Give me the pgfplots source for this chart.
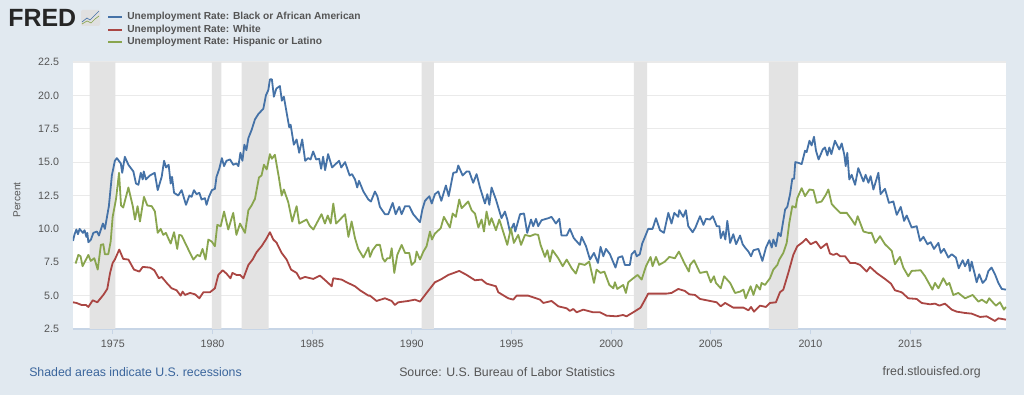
\documentclass[border=0pt]{standalone}
\usepackage{pgfplots}
\pgfplotsset{compat=1.18}
\usepackage{fontspec}
\setmainfont{Liberation Sans}
\definecolor{bgc}{HTML}{E1E9F0}
\definecolor{serblue}{HTML}{4572A7}
\definecolor{serred}{HTML}{AA4643}
\definecolor{sergreen}{HTML}{89A54E}
\definecolor{gridc}{HTML}{EAEAEA}
\definecolor{band}{HTML}{E3E3E3}
\definecolor{txt}{HTML}{555555}
\definecolor{axc}{HTML}{C7D5E6}
\definecolor{linkc}{HTML}{3A659C}
\begin{document}
\begin{tikzpicture}[x=0.75pt,y=0.75pt]
\fill[bgc] (0,0) rectangle (1024,395);
\useasboundingbox (0,0) rectangle (1024,395);
\begin{axis}[
  at={(54.75pt,49.5pt)}, anchor=south west, scale only axis,
  width=700pt, height=200.25pt,
  xmin=1973, xmax=2019.83, ymin=2.5, ymax=22.5,
  axis background/.style={fill=white},
  axis x line*=bottom, axis y line*=left,
  y axis line style={draw=none}, x axis line style={draw=axc,line width=0.8pt,-},
  ytick={2.5,5,7.5,10,12.5,15,17.5,20,22.5},
  yticklabels={2.5,5.0,7.5,10.0,12.5,15.0,17.5,20.0,22.5},
  xtick={1975,1980,1985,1990,1995,2000,2005,2010,2015},
  xticklabel style={/pgf/number format/set thousands separator={},/pgf/number format/assume math mode=true,font=\fontsize{8pt}{10pt}\selectfont,text=txt,yshift=-1pt},
  yticklabel style={/pgf/number format/assume math mode=true,font=\fontsize{8pt}{10pt}\selectfont,text=txt,xshift=-3pt},
  ymajorgrids, grid style={gridc,line width=0.9pt},
  x tick style={draw=axc,line width=0.6pt}, y tick style={draw=none},
  major tick length=4pt, tick pos=lower,
  tick align=outside,
  clip=true,
]
\addplot[fill=band,draw=none,forget plot] coordinates {(1973.83,2.5)(1973.83,22.5)(1975.12,22.5)(1975.12,2.5)} \closedcycle;
\addplot[fill=band,draw=none,forget plot] coordinates {(1979.97,2.5)(1979.97,22.5)(1980.44,22.5)(1980.44,2.5)} \closedcycle;
\addplot[fill=band,draw=none,forget plot] coordinates {(1981.46,2.5)(1981.46,22.5)(1982.82,22.5)(1982.82,2.5)} \closedcycle;
\addplot[fill=band,draw=none,forget plot] coordinates {(1990.49,2.5)(1990.49,22.5)(1991.11,22.5)(1991.11,2.5)} \closedcycle;
\addplot[fill=band,draw=none,forget plot] coordinates {(2001.14,2.5)(2001.14,22.5)(2001.81,22.5)(2001.81,2.5)} \closedcycle;
\addplot[fill=band,draw=none,forget plot] coordinates {(2007.91,2.5)(2007.91,22.5)(2009.38,22.5)(2009.38,2.5)} \closedcycle;
% Black or African American
\addplot[serblue,line width=1.35pt,line join=round] coordinates {
(1973.0,9.1)(1973.08,9.6)(1973.17,9.95)(1973.25,9.6)(1973.33,10.0)(1973.5,9.7)(1973.58,9.9)(1973.67,9.4)(1973.72,9.7)(1973.77,9.0)(1973.9,9.2)(1974.02,9.7)(1974.2,9.8)(1974.3,9.5)(1974.5,10.4)(1974.6,10.0)(1974.8,11.7)(1974.95,14.0)(1975.1,15.1)(1975.2,15.3)(1975.4,14.9)(1975.47,14.2)(1975.6,15.4)(1975.78,14.8)(1976.03,14.3)(1976.16,13.4)(1976.28,13.3)(1976.4,14.2)(1976.5,13.7)(1976.55,14.3)(1976.66,13.7)(1976.86,14.0)(1977.1,14.2)(1977.25,12.9)(1977.45,13.9)(1977.57,15.1)(1977.67,14.6)(1977.8,14.8)(1977.9,13.4)(1977.97,13.9)(1978.07,12.7)(1978.28,12.5)(1978.45,12.9)(1978.67,11.8)(1978.84,12.5)(1978.95,12.4)(1979.07,12.9)(1979.2,12.6)(1979.34,12.7)(1979.45,12.2)(1979.62,12.3)(1979.7,11.8)(1979.82,12.4)(1979.97,12.9)(1980.12,13.0)(1980.2,13.9)(1980.34,14.5)(1980.47,15.3)(1980.58,14.7)(1980.7,15.1)(1980.88,15.2)(1981.04,14.8)(1981.2,14.9)(1981.3,14.7)(1981.4,15.7)(1981.5,15.1)(1981.6,16.3)(1981.7,15.9)(1981.8,16.8)(1981.96,17.4)(1982.13,18.2)(1982.3,18.6)(1982.55,19.0)(1982.68,20.0)(1982.8,20.4)(1982.88,21.2)(1982.98,21.2)(1983.08,19.9)(1983.2,20.5)(1983.38,20.7)(1983.48,19.6)(1983.58,19.9)(1983.72,18.7)(1983.85,17.6)(1983.92,17.8)(1984.08,16.3)(1984.22,16.7)(1984.35,15.7)(1984.5,16.7)(1984.65,15.1)(1984.8,15.3)(1984.92,15.2)(1985.05,15.8)(1985.2,15.2)(1985.35,15.25)(1985.45,14.5)(1985.55,15.4)(1985.65,14.4)(1985.8,15.6)(1986.0,14.6)(1986.35,15.1)(1986.46,14.6)(1986.65,15.0)(1986.88,14.0)(1987.0,14.1)(1987.15,13.7)(1987.26,13.1)(1987.35,13.6)(1987.57,12.8)(1987.82,12.2)(1987.95,12.05)(1988.15,12.8)(1988.27,12.45)(1988.4,11.65)(1988.65,11.1)(1988.82,11.1)(1989.04,11.95)(1989.19,11.1)(1989.37,11.65)(1989.49,11.1)(1989.66,11.7)(1989.87,11.7)(1990.07,11.1)(1990.41,10.5)(1990.53,11.45)(1990.66,12.1)(1990.88,12.45)(1991.0,11.9)(1991.16,12.6)(1991.33,12.8)(1991.48,12.1)(1991.71,13.25)(1991.85,12.45)(1992.08,14.2)(1992.25,14.25)(1992.33,14.75)(1992.55,14.0)(1992.75,14.3)(1992.88,14.3)(1993.08,13.45)(1993.25,14.1)(1993.42,13.1)(1993.67,11.9)(1993.79,12.6)(1993.89,11.8)(1994.0,13.1)(1994.22,12.2)(1994.5,10.8)(1994.67,11.3)(1994.79,10.7)(1994.92,9.8)(1995.12,10.4)(1995.19,9.8)(1995.43,11.1)(1995.63,11.15)(1995.79,9.7)(1995.98,10.7)(1996.09,10.2)(1996.23,10.75)(1996.34,10.2)(1996.51,10.65)(1996.85,10.8)(1997.01,10.9)(1997.23,10.4)(1997.4,10.75)(1997.51,9.5)(1997.77,9.5)(1997.93,10.0)(1998.13,9.3)(1998.43,8.8)(1998.52,9.4)(1998.74,8.7)(1998.94,7.7)(1999.14,8.2)(1999.34,7.45)(1999.47,8.65)(1999.61,7.95)(1999.74,8.5)(1999.94,8.1)(2000.22,7.1)(2000.36,7.85)(2000.56,7.95)(2000.69,7.3)(2000.94,7.3)(2001.03,8.1)(2001.19,8.35)(2001.28,7.95)(2001.44,8.1)(2001.56,8.9)(2001.7,9.4)(2001.86,10.0)(2002.08,10.0)(2002.25,10.8)(2002.45,9.9)(2002.65,9.7)(2002.87,11.2)(2003.03,10.4)(2003.17,11.2)(2003.37,10.9)(2003.42,11.4)(2003.62,10.9)(2003.75,11.4)(2003.87,10.2)(2004.09,9.75)(2004.23,10.1)(2004.46,10.95)(2004.63,10.3)(2004.76,10.75)(2004.96,10.7)(2005.1,10.95)(2005.3,10.2)(2005.43,10.2)(2005.5,9.3)(2005.63,9.8)(2005.73,9.2)(2005.83,10.6)(2005.97,8.95)(2006.13,9.6)(2006.27,8.85)(2006.47,9.5)(2006.6,8.85)(2006.72,8.6)(2006.89,8.3)(2007.02,7.95)(2007.14,8.4)(2007.39,8.5)(2007.59,7.6)(2007.77,8.6)(2007.94,9.15)(2008.06,8.6)(2008.14,9.2)(2008.27,8.7)(2008.39,9.7)(2008.51,9.45)(2008.73,11.45)(2008.84,11.65)(2008.98,12.6)(2009.09,13.75)(2009.18,13.75)(2009.24,15.0)(2009.39,14.95)(2009.56,14.85)(2009.73,15.85)(2009.81,15.75)(2009.95,16.6)(2010.06,16.25)(2010.18,16.9)(2010.28,15.85)(2010.41,15.2)(2010.62,15.95)(2010.73,16.1)(2010.85,15.5)(2010.95,16.1)(2011.05,15.6)(2011.23,16.6)(2011.45,15.95)(2011.57,16.4)(2011.7,15.55)(2011.77,14.7)(2011.85,15.7)(2011.95,13.7)(2012.07,14.05)(2012.24,13.3)(2012.4,14.55)(2012.66,13.55)(2012.77,14.05)(2012.91,13.45)(2013.02,13.95)(2013.16,12.95)(2013.41,14.2)(2013.52,12.6)(2013.74,13.0)(2013.94,11.95)(2014.16,12.05)(2014.33,11.05)(2014.53,11.65)(2014.7,10.6)(2014.83,11.0)(2015.08,10.1)(2015.33,10.2)(2015.5,9.1)(2015.67,9.4)(2015.87,8.85)(2016.03,9.0)(2016.2,8.5)(2016.42,8.95)(2016.54,8.2)(2016.7,8.5)(2016.92,7.85)(2017.09,8.1)(2017.3,7.85)(2017.44,7.05)(2017.64,7.65)(2017.76,7.2)(2017.92,7.7)(2018.0,6.85)(2018.09,7.55)(2018.27,6.45)(2018.34,6.0)(2018.47,6.6)(2018.64,5.95)(2018.8,6.2)(2018.93,6.85)(2019.09,7.1)(2019.26,6.6)(2019.43,5.95)(2019.6,5.5)(2019.81,5.45)};
% White
\addplot[serred,line width=1.35pt,line join=round] coordinates {
(1973.0,4.5)(1973.18,4.45)(1973.43,4.3)(1973.65,4.3)(1973.77,4.15)(1973.99,4.65)(1974.22,4.5)(1974.52,5.05)(1974.72,5.5)(1974.86,6.7)(1974.99,7.45)(1975.1,7.7)(1975.32,8.45)(1975.52,7.75)(1975.78,7.7)(1976.06,6.95)(1976.33,6.8)(1976.5,7.15)(1976.86,7.1)(1977.08,6.9)(1977.31,6.3)(1977.45,6.4)(1977.73,5.9)(1977.95,5.55)(1978.2,5.4)(1978.4,5.0)(1978.5,5.3)(1978.62,5.05)(1978.87,5.2)(1979.12,5.1)(1979.34,4.8)(1979.54,5.25)(1979.87,5.25)(1980.12,5.55)(1980.29,6.55)(1980.51,6.9)(1980.7,6.65)(1980.9,6.3)(1981.0,6.7)(1981.2,6.55)(1981.38,6.55)(1981.55,6.3)(1981.8,7.3)(1982.01,7.7)(1982.21,8.25)(1982.46,8.7)(1982.68,9.2)(1982.88,9.75)(1983.05,9.2)(1983.22,8.95)(1983.47,8.2)(1983.72,7.7)(1983.94,6.95)(1984.22,6.7)(1984.39,6.25)(1984.64,6.4)(1985.06,6.25)(1985.39,6.5)(1985.73,6.05)(1985.98,5.7)(1986.06,6.3)(1986.48,6.2)(1986.73,6.0)(1987.15,5.7)(1987.4,5.4)(1987.82,5.0)(1987.9,5.0)(1988.23,4.6)(1988.65,4.8)(1988.99,4.6)(1989.15,4.3)(1989.32,4.5)(1989.82,4.6)(1990.16,4.7)(1990.41,4.55)(1990.74,5.2)(1991.16,6.0)(1991.5,6.25)(1991.83,6.55)(1992.38,6.85)(1992.75,6.55)(1993.17,6.15)(1993.5,6.2)(1993.75,5.9)(1994.22,5.7)(1994.34,5.25)(1994.84,4.8)(1995.09,4.7)(1995.26,5.0)(1995.84,5.0)(1996.43,4.7)(1996.6,4.45)(1997.01,4.6)(1997.35,4.2)(1997.77,4.05)(1997.93,3.85)(1998.1,4.0)(1998.27,3.75)(1998.6,3.95)(1999.1,3.75)(1999.44,3.75)(1999.77,3.5)(2000.27,3.45)(2000.6,3.55)(2000.77,3.45)(2001.11,3.75)(2001.48,4.1)(2001.7,4.7)(2001.86,5.15)(2002.28,5.15)(2002.78,5.15)(2003.03,5.2)(2003.37,5.5)(2003.7,5.35)(2003.92,5.1)(2004.21,5.05)(2004.46,4.75)(2004.96,4.6)(2005.3,4.5)(2005.5,4.2)(2005.72,4.45)(2006.13,4.1)(2006.64,4.1)(2006.89,3.9)(2007.02,4.15)(2007.17,3.8)(2007.47,4.25)(2007.77,4.15)(2007.97,4.45)(2008.27,4.5)(2008.47,5.25)(2008.64,5.45)(2008.89,6.7)(2009.14,8.05)(2009.34,8.7)(2009.61,9.0)(2009.78,9.25)(2010.01,8.85)(2010.28,9.05)(2010.52,8.55)(2010.82,8.9)(2010.98,8.15)(2011.15,8.05)(2011.32,8.15)(2011.49,7.95)(2011.74,7.95)(2011.99,7.45)(2012.24,7.45)(2012.49,7.3)(2012.82,6.8)(2012.99,7.15)(2013.32,6.7)(2013.74,6.25)(2014.04,5.9)(2014.24,5.4)(2014.58,5.25)(2014.91,4.8)(2015.33,4.75)(2015.58,4.45)(2016.0,4.35)(2016.25,4.4)(2016.47,4.25)(2016.75,4.4)(2017.09,3.95)(2017.34,3.8)(2017.76,3.7)(2018.09,3.65)(2018.51,3.4)(2018.84,3.45)(2019.26,3.1)(2019.43,3.3)(2019.81,3.2)};
% Hispanic or Latino
\addplot[sergreen,line width=1.35pt,line join=round] coordinates {
(1973.13,7.4)(1973.27,8.05)(1973.38,7.95)(1973.48,7.2)(1973.77,8.05)(1973.89,7.6)(1974.07,7.8)(1974.24,6.95)(1974.4,8.8)(1974.52,8.85)(1974.6,8.1)(1974.77,8.1)(1974.89,9.05)(1974.99,10.9)(1975.16,12.25)(1975.31,14.2)(1975.41,11.75)(1975.52,11.6)(1975.78,13.1)(1976.0,11.7)(1976.11,10.7)(1976.24,11.7)(1976.36,10.55)(1976.56,12.4)(1976.73,11.75)(1976.95,11.7)(1977.11,11.3)(1977.25,9.7)(1977.4,10.0)(1977.53,9.55)(1977.66,9.7)(1977.9,8.9)(1978.07,9.75)(1978.23,8.5)(1978.33,9.55)(1978.45,9.5)(1978.79,8.45)(1979.04,7.7)(1979.24,8.05)(1979.37,7.95)(1979.5,8.5)(1979.65,7.7)(1979.79,9.2)(1979.96,9.05)(1980.12,8.7)(1980.24,10.3)(1980.41,10.2)(1980.58,11.3)(1980.79,9.95)(1981.04,11.2)(1981.2,9.55)(1981.38,10.4)(1981.63,9.7)(1981.8,11.4)(1981.96,11.75)(1982.13,12.25)(1982.33,13.85)(1982.46,14.0)(1982.58,14.8)(1982.72,14.45)(1982.88,15.6)(1982.98,15.25)(1983.13,15.55)(1983.33,13.85)(1983.47,12.5)(1983.58,12.95)(1983.8,12.0)(1984.0,10.55)(1984.22,11.7)(1984.35,10.4)(1984.72,10.7)(1984.89,10.2)(1985.06,9.95)(1985.22,10.4)(1985.47,11.1)(1985.64,10.4)(1985.78,11.0)(1985.93,10.4)(1986.06,11.9)(1986.2,10.4)(1986.4,10.7)(1986.65,11.1)(1986.82,9.4)(1986.98,10.55)(1987.15,9.3)(1987.31,8.5)(1987.57,7.85)(1987.82,8.6)(1987.9,7.9)(1988.03,8.4)(1988.23,8.8)(1988.4,8.8)(1988.54,7.8)(1988.65,7.55)(1988.77,7.8)(1988.9,7.8)(1988.99,8.55)(1989.12,6.7)(1989.27,8.05)(1989.49,8.8)(1989.66,8.2)(1989.87,8.2)(1989.99,7.3)(1990.16,7.55)(1990.24,8.3)(1990.41,7.7)(1990.58,8.3)(1990.74,8.7)(1990.91,9.8)(1991.01,9.2)(1991.16,9.65)(1991.45,10.05)(1991.61,10.9)(1991.91,10.1)(1992.05,11.15)(1992.21,10.9)(1992.38,12.2)(1992.5,11.55)(1992.83,12.05)(1993.0,11.4)(1993.17,11.15)(1993.34,10.1)(1993.5,10.7)(1993.62,9.8)(1993.75,11.3)(1993.89,10.3)(1994.0,10.8)(1994.22,9.9)(1994.39,10.7)(1994.56,9.9)(1994.79,8.8)(1994.97,10.05)(1995.12,8.95)(1995.34,9.55)(1995.48,8.8)(1995.68,9.55)(1995.93,9.45)(1996.18,9.6)(1996.34,9.55)(1996.46,8.8)(1996.68,7.9)(1996.8,8.4)(1996.93,7.55)(1997.06,8.4)(1997.35,7.8)(1997.57,7.2)(1997.77,7.7)(1998.02,7.05)(1998.23,6.65)(1998.4,7.4)(1998.68,7.3)(1998.9,7.55)(1999.14,5.95)(1999.27,6.95)(1999.47,6.7)(1999.66,6.8)(1999.91,5.8)(2000.11,5.55)(2000.19,6.0)(2000.31,5.5)(2000.61,5.8)(2000.74,5.2)(2000.86,6.0)(2001.11,6.3)(2001.33,6.55)(2001.53,6.2)(2001.75,7.2)(2001.98,7.9)(2002.08,7.2)(2002.25,7.9)(2002.41,7.3)(2002.7,7.55)(2002.92,7.9)(2003.2,7.8)(2003.4,8.3)(2003.67,7.45)(2003.9,6.8)(2003.96,7.3)(2004.16,7.65)(2004.46,6.7)(2004.8,6.8)(2005.0,6.0)(2005.16,6.45)(2005.26,5.95)(2005.5,5.55)(2005.67,6.45)(2005.97,5.95)(2006.22,5.2)(2006.47,5.3)(2006.64,5.45)(2006.75,4.8)(2007.0,5.7)(2007.14,5.05)(2007.3,5.8)(2007.47,5.45)(2007.55,5.95)(2007.72,5.8)(2007.97,6.3)(2008.14,6.95)(2008.34,7.3)(2008.44,7.7)(2008.64,8.2)(2008.81,8.95)(2008.94,10.45)(2009.09,11.7)(2009.26,11.6)(2009.34,12.3)(2009.56,13.05)(2009.73,12.45)(2009.95,12.95)(2010.15,12.9)(2010.31,11.95)(2010.56,12.05)(2010.77,12.55)(2010.9,12.95)(2011.07,11.85)(2011.23,11.6)(2011.49,11.2)(2011.82,11.2)(2012.07,10.7)(2012.24,10.3)(2012.37,10.95)(2012.66,9.8)(2012.91,9.7)(2013.07,9.7)(2013.26,8.95)(2013.49,9.45)(2013.74,8.85)(2014.08,8.35)(2014.24,7.35)(2014.49,7.9)(2014.66,7.1)(2014.91,6.45)(2015.08,6.85)(2015.53,6.9)(2015.75,6.45)(2016.12,5.45)(2016.25,5.95)(2016.42,5.55)(2016.67,6.3)(2016.84,5.8)(2016.97,5.95)(2017.17,5.05)(2017.42,5.2)(2017.76,4.8)(2018.14,5.05)(2018.43,4.55)(2018.6,4.7)(2018.84,4.45)(2018.97,4.8)(2019.18,4.45)(2019.31,4.25)(2019.51,4.5)(2019.71,3.95)(2019.81,4.15)};
\end{axis}
% legend
\draw[serblue,line width=1.2pt] (108,378) -- (122,378);
\draw[serred,line width=1.2pt] (108,365) -- (122,365);
\draw[sergreen,line width=1.2pt] (108,353) -- (122,353);
\begin{scope}[every node/.style={anchor=west,inner sep=0pt,text=txt,font=\fontsize{7.65pt}{9pt}\selectfont\bfseries}]
\node at (127,378) {Unemployment Rate: Black or African American};
\node at (127,365.5) {Unemployment Rate: White};
\node at (127,353) {Unemployment Rate: Hispanic or Latino};
\end{scope}
% logo
\node[anchor=west,inner sep=0pt,text=black!85,font=\fontsize{18.7pt}{19pt}\selectfont\bfseries] at (8,377) {FRED};
\fill[rounded corners=1pt,black!12] (81,369) rectangle (100,385);
\draw[serblue,line width=0.5pt] (82,373) -- (87,377) -- (90,375) -- (94,379) -- (99,384);
\draw[sergreen,line width=0.5pt] (82,371) -- (87,374) -- (91,372) -- (95,376) -- (99,379);
% y label
\node[rotate=90,inner sep=0pt,text=txt,font=\fontsize{7.6pt}{9pt}\selectfont] at (17,195) {Percent};
% footer
\begin{scope}[every node/.style={inner sep=0pt,font=\fontsize{9.25pt}{11pt}\selectfont}]
\node[anchor=west,text=linkc] at (29,23) {Shaded areas indicate U.S. recessions};
\node[anchor=west,text=txt] at (399,23) {Source: U.S. Bureau of Labor Statistics};
\node[anchor=east,text=txt] at (981,23) {fred.stlouisfed.org};
\end{scope}
\end{tikzpicture}
\end{document}
